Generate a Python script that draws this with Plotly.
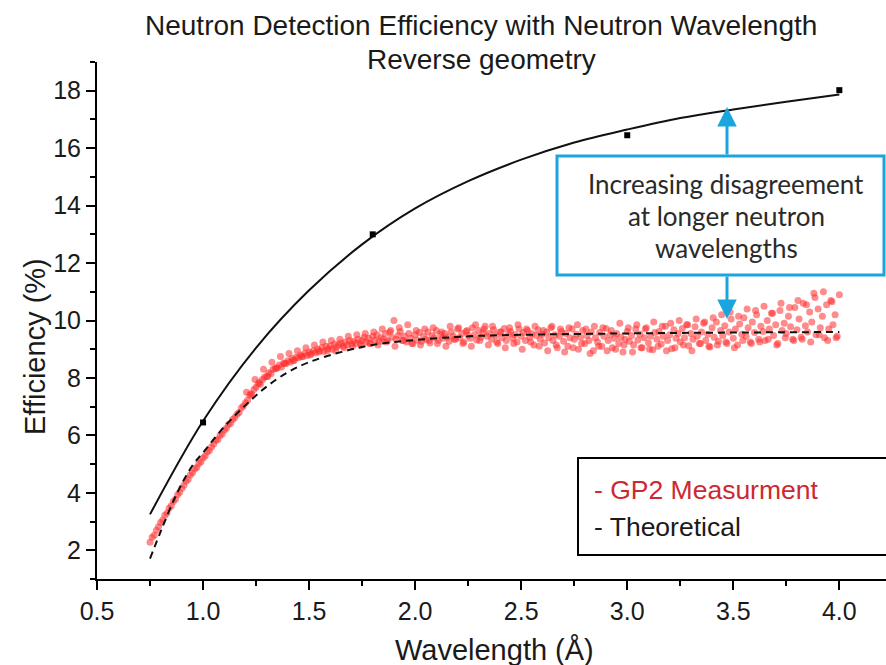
import plotly.graph_objects as go

# ---------------- data ----------------
GP2_WAVELENGTH = [
    0.75, 0.76, 0.77, 0.78, 0.79, 0.80, 0.81, 0.82, 0.83, 0.84,
    0.85, 0.86, 0.87, 0.88, 0.89, 0.90, 0.91, 0.92, 0.93, 0.94,
    0.95, 0.96, 0.97, 0.98, 0.99, 1.00, 1.01, 1.02, 1.03, 1.04,
    1.05, 1.06, 1.07, 1.08, 1.09, 1.10, 1.11, 1.12, 1.13, 1.14,
    1.15, 1.16, 1.17, 1.18, 1.19, 1.20, 1.21, 1.22, 1.23, 1.24,
    1.25, 1.26, 1.27, 1.28, 1.29, 1.30, 1.31, 1.32, 1.33, 1.34,
    1.35, 1.36, 1.37, 1.38, 1.39, 1.40, 1.41, 1.42, 1.43, 1.44,
    1.45, 1.46, 1.47, 1.48, 1.49, 1.50, 1.51, 1.52, 1.53, 1.54,
    1.55, 1.56, 1.57, 1.58, 1.59, 1.60, 1.61, 1.62, 1.63, 1.64,
    1.65, 1.66, 1.67, 1.68, 1.69, 1.70, 1.71, 1.72, 1.73, 1.74,
    1.75, 1.76, 1.77, 1.78, 1.79, 1.80, 1.81, 1.82, 1.83, 1.84,
    1.85, 1.86, 1.87, 1.88, 1.89, 1.90, 1.91, 1.92, 1.93, 1.94,
    1.95, 1.96, 1.97, 1.98, 1.99, 2.00, 2.01, 2.02, 2.03, 2.04,
    2.05, 2.06, 2.07, 2.08, 2.09, 2.10, 2.11, 2.12, 2.13, 2.14,
    2.15, 2.16, 2.17, 2.18, 2.19, 2.20, 2.21, 2.22, 2.23, 2.24,
    2.25, 2.26, 2.27, 2.28, 2.29, 2.30, 2.31, 2.32, 2.33, 2.34,
    2.35, 2.36, 2.37, 2.38, 2.39, 2.40, 2.41, 2.42, 2.43, 2.44,
    2.45, 2.46, 2.47, 2.48, 2.49, 2.50, 2.51, 2.52, 2.53, 2.54,
    2.55, 2.56, 2.57, 2.58, 2.59, 2.60, 2.61, 2.62, 2.63, 2.64,
    2.65, 2.66, 2.67, 2.68, 2.69, 2.70, 2.71, 2.72, 2.73, 2.74,
    2.75, 2.76, 2.77, 2.78, 2.79, 2.80, 2.81, 2.82, 2.83, 2.84,
    2.85, 2.86, 2.87, 2.88, 2.89, 2.90, 2.91, 2.92, 2.93, 2.94,
    2.95, 2.96, 2.97, 2.98, 2.99, 3.00, 3.01, 3.02, 3.03, 3.04,
    3.05, 3.06, 3.07, 3.08, 3.09, 3.10, 3.11, 3.12, 3.13, 3.14,
    3.15, 3.16, 3.17, 3.18, 3.19, 3.20, 3.21, 3.22, 3.23, 3.24,
    3.25, 3.26, 3.27, 3.28, 3.29, 3.30, 3.31, 3.32, 3.33, 3.34,
    3.35, 3.36, 3.37, 3.38, 3.39, 3.40, 3.41, 3.42, 3.43, 3.44,
    3.45, 3.46, 3.47, 3.48, 3.49, 3.50, 3.51, 3.52, 3.53, 3.54,
    3.55, 3.56, 3.57, 3.58, 3.59, 3.60, 3.61, 3.62, 3.63, 3.64,
    3.65, 3.66, 3.67, 3.68, 3.69, 3.70, 3.71, 3.72, 3.73, 3.74,
    3.75, 3.76, 3.77, 3.78, 3.79, 3.80, 3.81, 3.82, 3.83, 3.84,
    3.85, 3.86, 3.87, 3.88, 3.89, 3.90, 3.91, 3.92, 3.93, 3.94,
    3.95, 3.96, 3.97, 3.98, 3.99, 4.00,
]
GP2_EFFICIENCY = [
    2.28, 2.45, 2.52, 2.70, 2.82, 2.97, 3.05, 3.22, 3.30, 3.46,
    3.55, 3.70, 3.78, 3.93, 4.02, 4.16, 4.26, 4.40, 4.47, 4.62,
    4.70, 4.83, 4.88, 5.02, 5.08, 5.21, 5.28, 5.42, 5.47, 5.60,
    5.70, 5.82, 5.86, 6.00, 6.05, 6.18, 6.25, 6.38, 6.42, 6.55,
    6.62, 6.74, 6.80, 6.95, 7.02, 7.14, 7.22, 7.40, 7.42, 7.60,
    7.68, 7.80, 7.78, 7.95, 8.02, 8.05, 8.18, 8.15, 8.30, 8.32,
    8.35, 8.45, 8.38, 8.52, 8.50, 8.60, 8.55, 8.68, 8.62, 8.72,
    8.70, 8.80, 8.74, 8.86, 8.78, 8.90, 8.84, 8.95, 8.88, 9.00,
    8.95, 9.06, 8.92, 9.10, 9.02, 9.12, 9.00, 9.18, 9.08, 9.15,
    9.22, 9.10, 9.25, 9.15, 9.30, 9.18, 9.28, 9.20, 9.35, 9.22,
    9.30, 9.42, 9.25, 9.38, 9.20, 9.45, 9.32, 9.50, 9.28, 9.40,
    9.35, 9.55, 9.30, 9.60, 9.42, 10.00, 9.35, 9.48, 9.62, 9.30,
    9.45, 9.25, 9.55, 9.38, 9.20, 9.50, 9.32, 9.58, 9.28, 9.45,
    9.35, 9.60, 9.22, 9.48, 9.40, 9.65, 9.30, 9.52, 9.38, 9.55,
    9.42, 9.28, 9.60, 9.45, 9.35, 9.70, 9.40, 9.55, 9.25, 9.62,
    9.48, 9.38, 9.75, 9.50, 9.32, 9.65, 9.42, 9.58, 9.80, 9.45,
    9.55, 9.35, 9.68, 9.48, 9.20, 9.60, 9.40, 9.72, 9.30, 9.52,
    9.62, 9.38, 9.50, 9.25, 9.70, 9.45, 9.58, 9.30, 9.65, 9.42,
    9.55, 9.15, 9.48, 9.68, 9.35, 9.52, 9.22, 9.60, 9.40, 9.75,
    9.30, 9.50, 9.05, 9.45, 9.62, 9.28, 9.55, 9.10, 9.40, 9.70,
    9.35, 9.52, 9.00, 9.42, 9.65, 9.20, 9.48, 9.30, 9.60, 8.95,
    9.40, 9.25, 9.58, 9.10, 9.45, 9.72, 9.30, 9.50, 9.05, 9.38,
    9.55, 9.20, 9.42, 8.90, 9.35, 9.62, 9.28, 9.48, 9.15, 9.70,
    9.32, 9.52, 9.05, 9.40, 9.75, 9.22, 9.45, 8.98, 9.58, 9.35,
    9.62, 9.18, 9.45, 9.80, 9.30, 9.50, 9.02, 9.68, 9.38, 9.55,
    9.25, 9.72, 9.40, 9.85, 9.12, 9.55, 9.35, 9.78, 9.45, 9.20,
    9.60, 9.90, 9.30, 9.52, 9.08, 9.75, 9.42, 9.95, 9.28, 9.65,
    9.48, 9.82, 9.20, 9.60, 10.05, 9.38, 9.70, 9.15, 9.88, 9.52,
    10.10, 9.45, 9.75, 9.25, 9.95, 9.58, 10.20, 9.35, 9.80, 9.62,
    9.30, 10.00, 9.70, 10.25, 9.48, 9.85, 9.20, 10.35, 9.65, 9.90,
    9.55, 10.15, 9.78, 9.35, 10.45, 9.68, 10.05, 9.42, 10.60, 9.82,
    9.60, 10.30, 9.95, 10.95, 9.50, 10.40, 9.75, 10.15, 9.40, 10.55,
    9.70, 10.70, 9.85, 10.20, 9.45, 10.90,
]

# second pass of GP2 readings (interleaved bins)
GP2_WAVELENGTH_B = [
    1.205, 1.225, 1.245, 1.265, 1.285, 1.305, 1.325, 1.345, 1.365, 1.385,
    1.405, 1.425, 1.445, 1.465, 1.485, 1.505, 1.525, 1.545, 1.565, 1.585,
    1.605, 1.625, 1.645, 1.665, 1.685, 1.705, 1.725, 1.745, 1.765, 1.785,
    1.805, 1.825, 1.845, 1.865, 1.885, 1.905, 1.925, 1.945, 1.965, 1.985,
    2.005, 2.025, 2.045, 2.065, 2.085, 2.105, 2.125, 2.145, 2.165, 2.185,
    2.205, 2.225, 2.245, 2.265, 2.285, 2.305, 2.325, 2.345, 2.365, 2.385,
    2.405, 2.425, 2.445, 2.465, 2.485, 2.505, 2.525, 2.545, 2.565, 2.585,
    2.605, 2.625, 2.645, 2.665, 2.685, 2.705, 2.725, 2.745, 2.765, 2.785,
    2.805, 2.825, 2.845, 2.865, 2.885, 2.905, 2.925, 2.945, 2.965, 2.985,
    3.005, 3.025, 3.045, 3.065, 3.085, 3.105, 3.125, 3.145, 3.165, 3.185,
    3.205, 3.225, 3.245, 3.265, 3.285, 3.305, 3.325, 3.345, 3.365, 3.385,
    3.405, 3.425, 3.445, 3.465, 3.485, 3.505, 3.525, 3.545, 3.565, 3.585,
    3.605, 3.625, 3.645, 3.665, 3.685, 3.705, 3.725, 3.745, 3.765, 3.785,
    3.805, 3.825, 3.845, 3.865, 3.885, 3.905, 3.925, 3.945, 3.965, 3.985,
]
GP2_EFFICIENCY_B = [
    7.50, 7.45, 7.95, 7.85, 8.30, 8.05, 8.55, 8.35, 8.75, 8.50,
    8.85, 8.60, 8.95, 8.75, 9.05, 8.80, 9.15, 8.90, 9.25, 8.95,
    9.30, 8.95, 9.35, 9.05, 9.45, 9.10, 9.50, 9.15, 9.55, 9.20,
    9.60, 9.15, 9.70, 9.25, 9.65, 9.10, 9.75, 9.30, 9.85, 9.20,
    9.65, 9.15, 9.70, 9.30, 9.75, 9.20, 9.60, 9.10, 9.80, 9.35,
    9.75, 9.20, 9.65, 9.10, 9.85, 9.30, 9.70, 9.15, 9.80, 9.25,
    9.60, 9.05, 9.75, 9.20, 9.85, 9.00, 9.70, 9.25, 9.80, 9.10,
    9.65, 8.95, 9.80, 9.15, 9.70, 8.90, 9.75, 9.05, 9.85, 9.20,
    9.70, 8.85, 9.80, 9.10, 9.75, 8.95, 9.65, 9.00, 9.90, 9.15,
    9.75, 8.90, 9.85, 9.05, 9.70, 9.00, 9.95, 9.10, 9.80, 8.95,
    9.90, 9.05, 10.00, 9.15, 9.85, 8.95, 10.05, 9.20, 9.95, 9.10,
    10.10, 9.15, 10.20, 9.25, 10.30, 9.05, 10.15, 9.30, 10.40, 9.20,
    10.35, 9.25, 10.50, 9.35, 10.25, 9.15, 10.60, 9.40, 10.45, 9.30,
    10.70, 9.35, 10.55, 9.25, 10.80, 9.50, 11.00, 9.30, 10.65, 9.40,
]

THEORY_MEAS_X = [0.75, 0.80, 0.875, 0.95, 1.00, 1.10, 1.20, 1.30, 1.40, 1.50,
                 1.65, 1.80, 2.00, 2.25, 2.50, 3.00, 3.50, 4.00]
THEORY_MEAS_Y = [1.71, 2.65, 3.95, 4.95, 5.40, 6.30, 7.05, 7.70, 8.20, 8.55,
                 8.90, 9.15, 9.32, 9.45, 9.50, 9.55, 9.58, 9.60]

THEORY_REV_X = [0.75, 1.00, 1.25, 1.50, 1.75, 2.00, 2.25, 2.50, 2.75, 3.00,
                3.25, 3.50, 3.75, 4.00]
THEORY_REV_Y = [3.25, 6.50, 9.05, 11.05, 12.65, 13.90, 14.85, 15.60, 16.20, 16.65,
                17.05, 17.35, 17.62, 17.87]

REV_POINTS_X = [1.0, 1.8, 3.0, 4.0]
REV_POINTS_Y = [6.45, 13.0, 16.45, 18.02]

X_TICKS = [0.5, 1.0, 1.5, 2.0, 2.5, 3.0, 3.5, 4.0]
Y_TICKS = [2, 4, 6, 8, 10, 12, 14, 16, 18]

# ---------------- styling ----------------
FONT = "Liberation Sans, Arial, sans-serif"
TXT = "#1a1a1a"
BLUE = "#1aa5df"
RED_PT = "rgba(255,45,45,0.55)"
W, H = 886, 665
L, R, T, B = 97, 0, 62, 86
PW, PH = W - L - R, H - T - B


def px(xp):
    return (xp - L) / PW


def py(yp):
    return (H - B - yp) / PH


fig = go.Figure()

for xs, ys in [(GP2_WAVELENGTH, GP2_EFFICIENCY), (GP2_WAVELENGTH_B, GP2_EFFICIENCY_B)]:
    fig.add_trace(go.Scatter(
        x=xs, y=ys, mode="markers",
        marker=dict(size=7, color=RED_PT, line=dict(width=0)),
        showlegend=False, hoverinfo="skip"))

fig.add_trace(go.Scatter(
    x=THEORY_MEAS_X, y=THEORY_MEAS_Y, mode="lines",
    line=dict(color="#111", width=2, dash="7px,5px", shape="spline", smoothing=1),
    showlegend=False))

fig.add_trace(go.Scatter(
    x=THEORY_REV_X, y=THEORY_REV_Y, mode="lines",
    line=dict(color="#111", width=2, shape="spline", smoothing=1),
    showlegend=False))

fig.add_trace(go.Scatter(
    x=REV_POINTS_X, y=REV_POINTS_Y, mode="markers",
    marker=dict(symbol="square", size=6, color="black"),
    showlegend=False))

axis_common = dict(
    showline=True, linecolor="black", linewidth=2, showgrid=False, zeroline=False,
    ticks="outside", ticklen=9, tickwidth=2, tickcolor="black",
    tickfont=dict(family=FONT, size=25, color=TXT),
)

fig.update_xaxes(range=[0.5, 4.22], tickvals=X_TICKS, ticktext=[f"{v:.1f}" for v in X_TICKS],
                 minor=dict(ticks="outside", ticklen=5, tickwidth=2, tickcolor="black",
                            dtick=0.25, tick0=0.5, showgrid=False),
                 **axis_common)
fig.update_yaxes(range=[1, 19], tickvals=Y_TICKS,
                 minor=dict(ticks="outside", ticklen=5, tickwidth=2, tickcolor="black",
                            dtick=1, tick0=1, showgrid=False),
                 **axis_common)

ann = []
# titles
ann.append(dict(text="Neutron Detection Efficiency with Neutron Wavelength", x=px(481), y=py(25),
                xref="paper", yref="paper", showarrow=False, xanchor="center", yanchor="middle",
                font=dict(family=FONT, size=28, color=TXT)))
ann.append(dict(text="Reverse geometry", x=px(481), y=py(60),
                xref="paper", yref="paper", showarrow=False, xanchor="center", yanchor="middle",
                font=dict(family=FONT, size=28, color=TXT)))
# axis titles
ann.append(dict(text="Wavelength (Å)", x=px(495), y=py(650), xref="paper", yref="paper",
                showarrow=False, xanchor="center", yanchor="middle",
                font=dict(family=FONT, size=29, color=TXT)))
ann.append(dict(text="Efficiency (%)", x=px(35), y=py(347), xref="paper", yref="paper",
                showarrow=False, xanchor="center", yanchor="middle", textangle=-90,
                font=dict(family=FONT, size=29, color=TXT)))
# callout text
for txt, yy in [("Increasing disagreement", 184), ("at longer neutron", 216), ("wavelengths", 248)]:
    ann.append(dict(text=txt, x=px(726), y=py(yy), xref="paper", yref="paper", showarrow=False,
                    xanchor="center", yanchor="middle",
                    font=dict(family="Lato, Open Sans, sans-serif", size=26, color="#2a2a2a")))
# arrows
ann.append(dict(x=px(727), y=py(107), xref="paper", yref="paper", text="", showarrow=True,
                ax=0, ay=49, arrowhead=2, arrowsize=1.3, arrowwidth=3, arrowcolor=BLUE))
ann.append(dict(x=px(727), y=py(319), xref="paper", yref="paper", text="", showarrow=True,
                ax=0, ay=-44, arrowhead=2, arrowsize=1.3, arrowwidth=3, arrowcolor=BLUE))
# legend texts
ann.append(dict(text="- GP2 Measurment", x=px(592), y=py(490), xref="paper", yref="paper",
                showarrow=False, xanchor="left", yanchor="middle",
                font=dict(family=FONT, size=26.5, color="#cc2a30")))
ann.append(dict(text="- Theoretical", x=px(592), y=py(527), xref="paper", yref="paper",
                showarrow=False, xanchor="left", yanchor="middle",
                font=dict(family=FONT, size=26.5, color=TXT)))

shapes = [
    dict(type="rect", xref="paper", yref="paper", x0=px(557), x1=px(884), y0=py(275), y1=py(156),
         line=dict(color=BLUE, width=3), fillcolor="rgba(0,0,0,0)"),
    dict(type="rect", xref="paper", yref="paper", x0=px(578), x1=px(900), y0=py(555), y1=py(458),
         line=dict(color="black", width=2), fillcolor="rgba(0,0,0,0)"),
]

fig.update_layout(
    width=W, height=H, margin=dict(l=L, r=R, t=T, b=B, pad=0),
    paper_bgcolor="white", plot_bgcolor="white",
    annotations=ann, shapes=shapes, showlegend=False,
    font=dict(family=FONT, color=TXT),
)

fig.write_html("out.html")
